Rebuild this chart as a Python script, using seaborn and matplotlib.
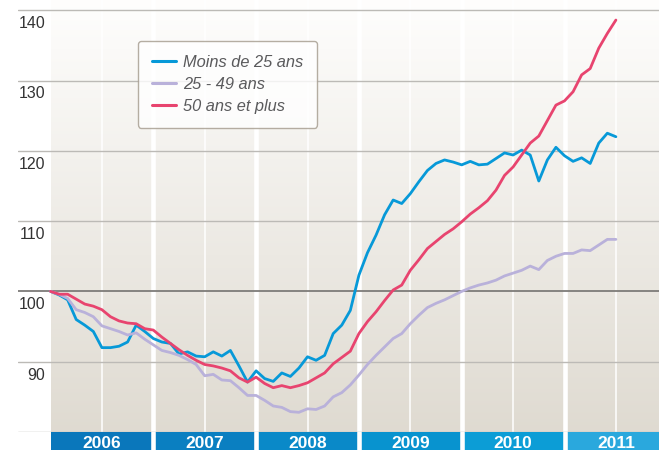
import pandas as pd
import numpy as np
import matplotlib.pyplot as plt
import matplotlib.transforms as mtransforms
import seaborn as sns

sns.set_style("white")
plt.rcParams['font.family'] = ['Liberation Sans', 'DejaVu Sans']

# Monthly index values, base 100 = January 2006
moins_25 = [100.0, 99.5, 98.8, 96.0, 95.2, 94.3, 92.0, 92.0, 92.2, 92.8, 95.2, 94.3,
            93.3, 92.8, 92.6, 91.1, 91.4, 90.8, 90.7, 91.4, 90.8, 91.6, 89.4, 87.1,
            88.7, 87.6, 87.2, 88.4, 87.9, 89.1, 90.7, 90.2, 90.9, 94.0, 95.2, 97.3,
            102.3, 105.5, 108.0, 110.9, 113.0, 112.5, 113.9, 115.6, 117.2, 118.2, 118.7, 118.4,
            118.0, 118.5, 118.0, 118.1, 118.9, 119.7, 119.4, 120.1, 119.4, 115.7, 118.7, 120.5,
            119.3, 118.5, 119.0, 118.2, 121.1, 122.5, 122.0]
de_25_49 = [100.0, 99.6, 99.0, 97.4, 97.0, 96.4, 95.1, 94.7, 94.3, 93.8, 94.1, 93.2,
            92.4, 91.6, 91.3, 90.9, 90.3, 89.6, 88.0, 88.2, 87.4, 87.3, 86.3, 85.2,
            85.2, 84.5, 83.7, 83.5, 82.9, 82.8, 83.3, 83.2, 83.7, 85.0, 85.6, 86.7,
            88.1, 89.6, 90.9, 92.1, 93.3, 94.0, 95.4, 96.6, 97.7, 98.3, 98.8, 99.4,
            100.0, 100.5, 100.9, 101.2, 101.6, 102.2, 102.6, 103.0, 103.6, 103.1, 104.4, 105.0,
            105.4, 105.4, 105.9, 105.8, 106.6, 107.4, 107.4]
plus_50 = [100.0, 99.6, 99.6, 98.9, 98.2, 97.9, 97.4, 96.4, 95.8, 95.5, 95.4, 94.7,
           94.5, 93.5, 92.6, 91.7, 90.9, 90.2, 89.6, 89.4, 89.1, 88.7, 87.7, 87.1,
           87.8, 86.9, 86.3, 86.6, 86.3, 86.6, 87.0, 87.7, 88.4, 89.7, 90.6, 91.5,
           94.0, 95.7, 97.1, 98.7, 100.2, 100.9, 103.0, 104.5, 106.1, 107.1, 108.1, 108.9,
           109.9, 111.0, 111.9, 112.9, 114.4, 116.5, 117.7, 119.4, 121.1, 122.1, 124.3, 126.5,
           127.1, 128.4, 130.8, 131.7, 134.6, 136.7, 138.6]

series_names = ['Moins de 25 ans', '25 - 49 ans', '50 ans et plus']
series_colors = ['#0799d8', '#b9b1da', '#e8446f']
years = [2006, 2007, 2008, 2009, 2010, 2011]
year_colors = ['#0a77bb', '#0a7fc1', '#0a89c8', '#0893cf', '#0c9dd6', '#2aa8dd']
y_ticks = [90, 100, 110, 120, 130, 140]

months = 2006 + np.arange(len(moins_25)) / 12
df = pd.DataFrame({
    't': np.tile(months, 3),
    'val': moins_25 + de_25_49 + plus_50,
    'serie': np.repeat(series_names, len(months)),
})

fig = plt.figure(figsize=(6.59, 4.5), dpi=100)
W, H = 659, 450
ax = fig.add_axes([18 / W, 18 / H, 641 / W, 432 / H])
x0, x1 = 2006 - 32.5 / 102.8, 2006 + 608.5 / 102.8
y0, y1 = 80, 80 + 432 / 7.03
ax.set_xlim(x0, x1)
ax.set_ylim(y0, y1)

# background gradient + white separators
grad = np.linspace(0, 1, 256).reshape(-1, 1)
top = np.array([0.998, 0.996, 0.992])
bot = np.array([0.875, 0.857, 0.820])
img = bot[None, None, :] * (1 - grad[..., None]) + top[None, None, :] * grad[..., None]
ax.imshow(img, extent=[2006, x1, y0, y1], aspect='auto', origin='lower', zorder=0)
for y in years[1:]:
    ax.axvline(y, color='white', lw=3.3, zorder=0.5)
for y in years:
    ax.axvline(y + 0.5, color='white', lw=1.1, zorder=0.5)

for v in [80] + y_ticks:
    ax.axhline(v, color='#7d7b78' if v == 100 else '#bcbab6',
               lw=1.3 if v == 100 else 1.0, zorder=1)

trans = mtransforms.blended_transform_factory(ax.transAxes, ax.transData)
for v in y_ticks:
    ax.text(27 / 641, v - 1.92, str(v), transform=trans, ha='right', va='center',
            fontsize=11.5, color='#333333')

sns.lineplot(data=df, x='t', y='val', hue='serie', hue_order=series_names,
             palette=series_colors, linewidth=2.0, ax=ax, zorder=3)

handles, labels = ax.get_legend_handles_labels()
leg = ax.legend(handles, labels, loc='upper left', bbox_to_anchor=(120 / 641, 1 - 41 / 432),
                borderaxespad=0, frameon=True, fancybox=True, handlelength=1.45,
                handletextpad=0.45, labelspacing=0.42, borderpad=0.85,
                prop={'style': 'italic', 'size': 11.8})
leg.get_frame().set_edgecolor('#a39a8c')
leg.get_frame().set_linewidth(1.0)
for t in leg.get_texts():
    t.set_color('#5a5a5c')
for h in leg.get_lines():
    h.set_linewidth(2.2)

ax.set_xlabel('')
ax.set_ylabel('')
ax.set_xticks([])
ax.set_yticks([])
for s in ax.spines.values():
    s.set_visible(False)

# year bar
bx = fig.add_axes([18 / W, 0, 641 / W, 18 / H])
bx.set_xlim(x0, x1)
bx.set_ylim(0, 18)
for y, c in zip(years, year_colors):
    bx.axvspan(y, y + 1, color=c, lw=0)
    bx.text(y + 0.5, 2.0, str(y), ha='center', va='baseline', color='white',
            fontsize=12.5, fontweight='bold')
for y in years[1:]:
    bx.axvline(y, color='white', lw=3.3)
bx.axis('off')

fig.savefig('out.png', dpi=100)
